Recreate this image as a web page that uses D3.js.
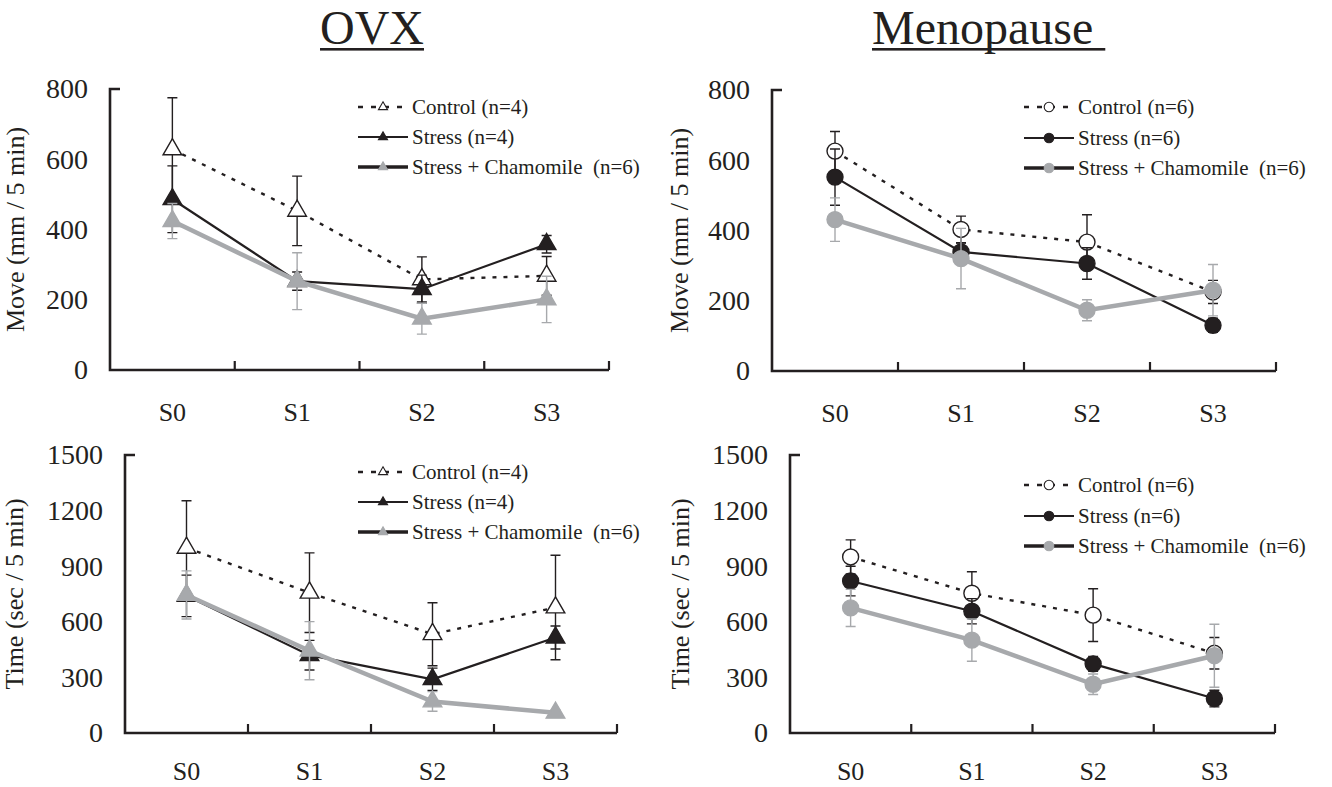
<!DOCTYPE html>
<html>
<head>
<meta charset="utf-8">
<script src="https://cdn.jsdelivr.net/npm/d3@7"></script>
<style>
  body { margin: 0; background: #fff; }
</style>
</head>
<body>
<svg id="chart" width="1332" height="787"></svg>
<script>
// categories and tick values
var categories = ["S0", "S1", "S2", "S3"];
var moveTicks = [0, 200, 400, 600, 800];
var timeTicks = [0, 300, 600, 900, 1200, 1500];

// OVX, move
var ovxMoveControl = [628, 453, 258, 268];
var ovxMoveControlSE = [147, 99, 64, 55];
var ovxMoveStress = [486, 253, 230, 358];
var ovxMoveStressSE = [95, 26, 40, 25];
var ovxMoveChamomile = [424, 253, 146, 201];
var ovxMoveChamomileSE = [50, 81, 44, 66];

// Menopause, move
var menoMoveControl = [626, 403, 367, 225];
var menoMoveControlSE = [56, 38, 78, 33];
var menoMoveStress = [552, 339, 306, 130];
var menoMoveStressSE = [80, 25, 45, 20];
var menoMoveChamomile = [431, 320, 173, 230];
var menoMoveChamomileSE = [62, 86, 30, 73];

// OVX, time
var ovxTimeControl = [999, 757, 533, 677];
var ovxTimeControlSE = [254, 215, 170, 282];
var ovxTimeStress = [740, 420, 290, 515];
var ovxTimeStressSE = [112, 80, 60, 62];
var ovxTimeChamomile = [745, 444, 170, 109];
var ovxTimeChamomileSE = [130, 157, 53, 15];

// Menopause, time
var menoTimeControl = [950, 754, 636, 430];
var menoTimeControlSE = [92, 116, 142, 85];
var menoTimeStress = [820, 657, 373, 186];
var menoTimeStressSE = [80, 68, 40, 45];
var menoTimeChamomile = [675, 501, 263, 417];
var menoTimeChamomileSE = [100, 114, 55, 170];

var ovxLegend = ["Control (n=4)", "Stress (n=4)", "Stress + Chamomile  (n=6)"];
var menoLegend = ["Control (n=6)", "Stress (n=6)", "Stress + Chamomile  (n=6)"];

var ink = "#231f20", grey = "#a7a9ac";
var serif = "'Liberation Serif', 'Times New Roman', Times, serif";

var styles = [
  {line: ink, width: 2.4, dash: "4,7", fill: "#fff", stroke: ink, err: ink, legLine: ink, legWidth: 2.4},
  {line: ink, width: 2.2, dash: null, fill: ink, stroke: ink, err: ink, legLine: ink, legWidth: 2.2},
  {line: grey, width: 4.5, dash: null, fill: grey, stroke: grey, err: grey, legLine: ink, legWidth: 3.5}
];

var panels = [
  {left: 110, right: 609, top: 89, bottom: 370, ticks: moveTicks, label: "Move (mm / 5 min)", labelOff: 86, xlab: 51,
   marker: "triangle", legend: ovxLegend, legX: 358, legY: [107, 137, 167],
   series: [[ovxMoveControl, ovxMoveControlSE], [ovxMoveStress, ovxMoveStressSE], [ovxMoveChamomile, ovxMoveChamomileSE]]},
  {left: 772, right: 1276, top: 90, bottom: 371, ticks: moveTicks, label: "Move (mm / 5 min)", labelOff: 84, xlab: 51,
   marker: "circle", legend: menoLegend, legX: 1024, legY: [107, 138, 168],
   series: [[menoMoveControl, menoMoveControlSE], [menoMoveStress, menoMoveStressSE], [menoMoveChamomile, menoMoveChamomileSE]]},
  {left: 125, right: 617, top: 455, bottom: 733, ticks: timeTicks, label: "Time (sec / 5 min)", labelOff: 102, xlab: 47,
   marker: "triangle", legend: ovxLegend, legX: 358, legY: [472, 502, 532],
   series: [[ovxTimeControl, ovxTimeControlSE], [ovxTimeStress, ovxTimeStressSE], [ovxTimeChamomile, ovxTimeChamomileSE]]},
  {left: 790, right: 1275, top: 455, bottom: 733, ticks: timeTicks, label: "Time (sec / 5 min)", labelOff: 101, xlab: 47,
   marker: "circle", legend: menoLegend, legX: 1024, legY: [485, 516, 546],
   series: [[menoTimeControl, menoTimeControlSE], [menoTimeStress, menoTimeStressSE], [menoTimeChamomile, menoTimeChamomileSE]]}
];

var svg = d3.select("#chart");
svg.append("rect").attr("width", 1332).attr("height", 787).attr("fill", "#fff");

// titles
[{text: "OVX", x: 320}, {text: "Menopause\u00a0", x: 872}].forEach(function(t) {
  var el = svg.append("text")
      .attr("x", t.x).attr("y", 44)
      .style("font-family", serif).style("font-size", "48px").attr("fill", ink)
      .text(t.text);
  var w = el.node().getComputedTextLength();
  svg.append("rect").attr("x", t.x).attr("y", 48).attr("width", w).attr("height", 2.6).attr("fill", ink);
});

function triangle(big) {
  return d3.symbol(d3.symbolTriangle, big ? 150 : 36)();
}

panels.forEach(function(p) {
  var x = d3.scaleBand().domain(categories).range([p.left, p.right]).padding(0);
  var y = d3.scaleLinear().domain([0, d3.max(p.ticks)]).range([p.bottom, p.top]);
  var cx = function(c) { return x(c) + x.bandwidth() / 2; };
  var g = svg.append("g");

  // y axis labels
  var ya = g.append("g")
      .attr("transform", "translate(" + p.left + ",0)")
      .call(d3.axisLeft(y).tickValues(p.ticks).tickFormat(d3.format("d")).tickSize(0).tickPadding(22));
  ya.select(".domain").remove();
  ya.selectAll("text").style("font-family", serif).style("font-size", "28px").attr("fill", ink);

  // x axis labels
  var xa = g.append("g")
      .attr("transform", "translate(0," + p.bottom + ")")
      .call(d3.axisBottom(x).tickSize(0));
  xa.select(".domain").remove();
  xa.selectAll("text").style("font-family", serif).style("font-size", "26px").attr("fill", ink)
      .attr("y", p.xlab).attr("dy", null);

  // frame lines
  g.append("path")
      .attr("d", "M" + (p.left + 10) + "," + p.top + "H" + p.left + "V" + p.bottom + "H" + p.right)
      .attr("fill", "none").attr("stroke", ink).attr("stroke-width", 2.6);
  g.selectAll(".xt").data(categories).enter().append("line")
      .attr("x1", function(c) { return x(c) + x.bandwidth(); })
      .attr("x2", function(c) { return x(c) + x.bandwidth(); })
      .attr("y1", p.bottom).attr("y2", p.bottom - 9)
      .attr("stroke", ink).attr("stroke-width", 2.2);

  // y axis title
  g.append("text")
      .attr("transform", "translate(" + (p.left - p.labelOff) + "," + ((p.top + p.bottom) / 2) + ") rotate(-90)")
      .attr("text-anchor", "middle")
      .style("font-family", serif).style("font-size", "26px").attr("fill", ink)
      .text(p.label);

  // series
  p.series.forEach(function(s, i) {
    var st = styles[i];
    var vals = s[0], se = s[1];
    var pts = categories.map(function(c, k) { return {c: c, v: vals[k], e: se[k]}; });
    var sg = g.append("g");

    sg.selectAll(".eb").data(pts).enter().append("path")
        .attr("d", function(d) {
          var xx = cx(d.c), y1 = y(d.v + d.e), y0 = y(d.v - d.e);
          return "M" + xx + "," + y0 + "V" + y1 + "M" + (xx - 5) + "," + y1 + "H" + (xx + 5) +
                 "M" + (xx - 5) + "," + y0 + "H" + (xx + 5);
        })
        .attr("fill", "none").attr("stroke", st.err).attr("stroke-width", 1.4);

    sg.append("path")
        .datum(pts)
        .attr("d", d3.line().x(function(d) { return cx(d.c); }).y(function(d) { return y(d.v); }))
        .attr("fill", "none").attr("stroke", st.line).attr("stroke-width", st.width)
        .attr("stroke-dasharray", st.dash);

    if (p.marker === "triangle") {
      sg.selectAll(".mk").data(pts).enter().append("path")
          .attr("d", triangle(true))
          .attr("transform", function(d) { return "translate(" + cx(d.c) + "," + y(d.v) + ")"; })
          .attr("fill", st.fill).attr("stroke", st.stroke).attr("stroke-width", 1.4);
    } else {
      sg.selectAll(".mk").data(pts).enter().append("circle")
          .attr("cx", function(d) { return cx(d.c); })
          .attr("cy", function(d) { return y(d.v); })
          .attr("r", 8)
          .attr("fill", st.fill).attr("stroke", st.stroke).attr("stroke-width", 1.4);
    }
  });

  // legend
  var lg = g.append("g");
  p.legend.forEach(function(txt, i) {
    var st = styles[i], yy = p.legY[i], x0 = p.legX, x1 = p.legX + 50, mx = p.legX + 25;
    lg.append("line")
        .attr("x1", x0).attr("x2", x1).attr("y1", yy).attr("y2", yy)
        .attr("stroke", st.legLine).attr("stroke-width", st.legWidth)
        .attr("stroke-dasharray", i === 0 ? "5,8" : null);
    if (p.marker === "triangle") {
      lg.append("path").attr("d", triangle(false))
          .attr("transform", "translate(" + mx + "," + yy + ")")
          .attr("fill", st.fill).attr("stroke", st.stroke).attr("stroke-width", 1.1);
    } else {
      lg.append("circle").attr("cx", mx).attr("cy", yy).attr("r", 4.8)
          .attr("fill", st.fill).attr("stroke", st.stroke).attr("stroke-width", 1.1);
    }
    lg.append("text")
        .attr("x", x1 + 4).attr("y", yy).attr("dy", "0.35em")
        .style("font-family", serif).style("font-size", "21px").style("white-space", "pre")
        .attr("fill", ink)
        .text(txt);
  });
});
</script>
</body>
</html>
